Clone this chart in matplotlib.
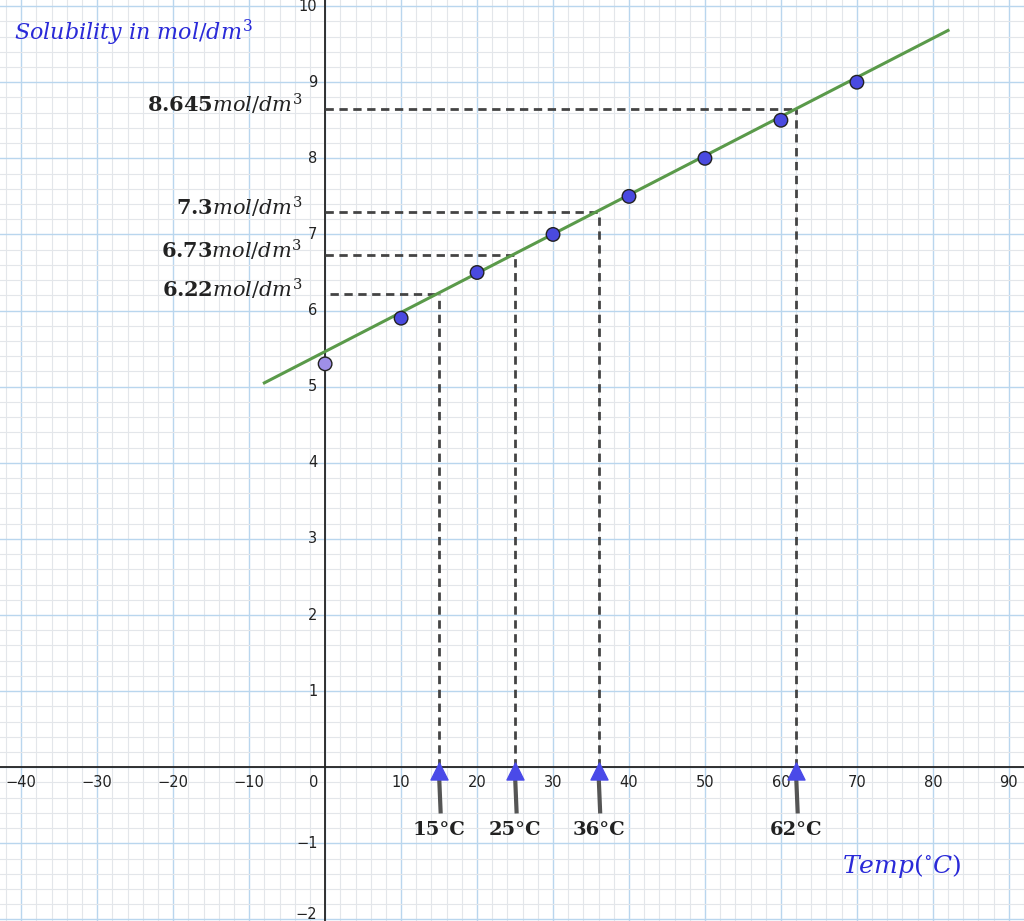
import matplotlib
matplotlib.use("Agg")
import matplotlib.pyplot as plt
import numpy as np
from matplotlib.ticker import MultipleLocator

plt.rcParams['mathtext.fontset'] = 'dejavuserif'

temps = [0, 10, 20, 30, 40, 50, 60, 70]
solub = [5.3, 5.9, 6.5, 7.0, 7.5, 8.0, 8.5, 9.0]
fit_x = [-8, 82]
fit_y = [5.05, 9.68]
read_t = [15, 25, 36, 62]
read_s = [6.22, 6.73, 7.3, 8.645]
read_s_labels = ["6.22", "6.73", "7.3", "8.645"]
dash_start = [0.7, 0, 0, 0]

fig = plt.figure(figsize=(10.24, 9.21), dpi=100)
ax = fig.add_axes([0, 0, 1, 1])
ax.set_xlim(-42.8, 92.0)
ax.set_ylim(-2.02, 10.08)
ax.xaxis.set_major_locator(MultipleLocator(10))
ax.xaxis.set_minor_locator(MultipleLocator(2))
ax.yaxis.set_major_locator(MultipleLocator(1))
ax.yaxis.set_minor_locator(MultipleLocator(0.2))
ax.grid(which='major', color='#b9d6ee', lw=1.0)
ax.grid(which='minor', color='#e3e6ea', lw=0.8)
ax.tick_params(which='both', length=0, labelbottom=False, labelleft=False)
for s in ax.spines.values():
    s.set_visible(False)
ax.set_axisbelow(True)
ax.axhline(0, color='#222', lw=1.3)
ax.axvline(0, color='#222', lw=1.3)

for v in range(-40, 91, 10):
    if v == 0:
        ax.text(-1.5, -0.2, "0", ha='center', va='center', fontsize=10.5, color='#222')
    else:
        ax.text(v, -0.2, f"{v}".replace('-', '−'), ha='center', va='center', fontsize=10.5, color='#222')
for v in range(-2, 11):
    if v == 0:
        continue
    y = v + 0.06 if v == -2 else v
    ax.text(-1.0, y, f"{v}".replace('-', '−'), ha='right', va='center', fontsize=10.5, color='#222')

ax.plot(fit_x, fit_y, color='#5a9a4a', lw=2.2, zorder=3)
cols = ['#9f8fe8'] + ['#4a4ae0'] * (len(temps) - 1)
ax.scatter(temps, solub, s=95, c=cols, edgecolors='#222', linewidths=1, zorder=4)

for t, s, lab, x0 in zip(read_t, read_s, read_s_labels, dash_start):
    ax.plot([t, t], [0, s], ls='--', color='#444', lw=2, dashes=(3, 2), zorder=2)
    ax.plot([x0, t], [s, s], ls='--', color='#444', lw=2, dashes=(3, 2), zorder=2)
    ax.text(-3, s + 0.06, rf"$\mathbf{{{lab}}}\mathit{{mol/dm^3}}$", ha='right', va='center',
            fontsize=15, color='#222')
    ax.plot([t, t + 0.2], [-0.1, -0.58], color='#555', lw=3, zorder=4)
    ax.scatter([t], [-0.05], marker='^', s=150, color='#4a4ae8', zorder=5)
    ax.text(t, -0.83, f"{t}°C", ha='center', va='center', fontsize=14, fontweight='bold',
            family='DejaVu Serif', color='#222')

ax.text(-41, 9.65, r"$\mathit{Solubility\ in\ mol/dm^3}$", fontsize=16, color='#2a2ad8',
        ha='left', va='center')
ax.text(68, -1.3, r"$\mathit{Temp(^{\circ}C)}$", fontsize=18, color='#2a2ad8',
        ha='left', va='center')
fig.savefig("out.png", dpi=100)
